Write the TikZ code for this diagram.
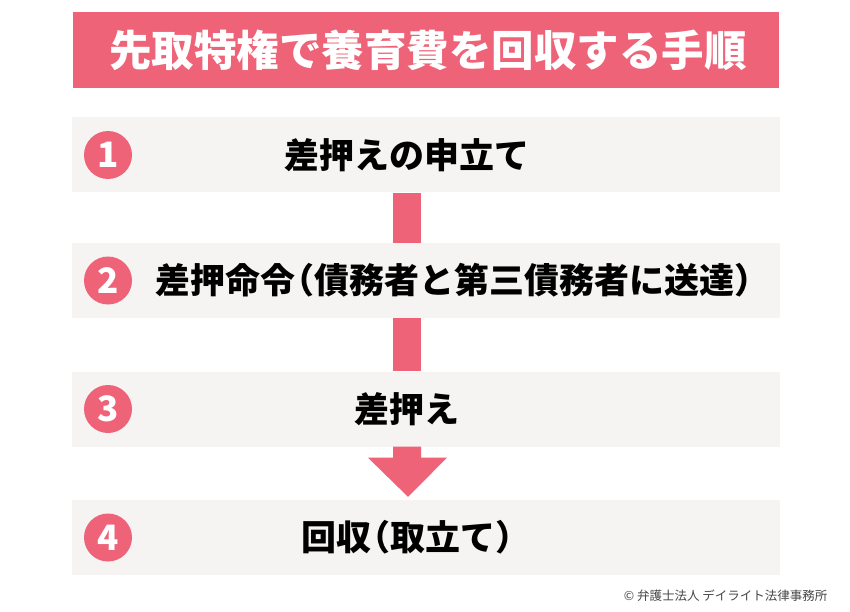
\documentclass[tikz,border=0pt]{standalone}
\usepackage{fontspec}
\usepackage{xcolor}
\usepackage{tikz}
\usetikzlibrary{calc}
\usetikzlibrary{positioning}
\newfontfamily\cjk{Noto Sans CJK JP}
\definecolor{rosepink}{RGB}{238,99,119}
\definecolor{bandgray}{RGB}{246,244,242}
\definecolor{notegray}{RGB}{70,70,70}
\newcommand{\lpar}{\kern-.45em（}
\tikzset{
  band/.style={fill=bandgray,minimum width=708,minimum height=75,inner sep=0},
  numdot/.style={circle,fill=rosepink,minimum size=48,inner sep=0,text=white,
    font=\cjk\bfseries\fontsize{35}{35}\selectfont},
  steptext/.style={font=\cjk\bfseries\fontsize{35}{35}\selectfont,inner sep=0},
}

\begin{document}
\begin{tikzpicture}[x=1pt,y=-1pt]
	\useasboundingbox (0,0) rectangle (850,612);
	% title
	\node[fill=rosepink,minimum width=706,minimum height=76,inner sep=0] (titlebox) at (426,50) {};
	\node[text=white,font=\cjk\bfseries\fontsize{42.5}{42.5}\selectfont] (title) at (428,50) {先取特権で養育費を回収する手順};
	% steps
	\coordinate (axis) at (407,0);
	\foreach \n/\yc in {1/155,2/280.5,3/409,4/537.5}{
		\node[band] (band\n) at (426,\yc) {};
		\node[numdot] (num\n) at (108,\yc) {\n};
	}
	\node[steptext] (step1) at (axis |- band1) {差押えの申立て};
	\node[steptext,anchor=west] (step2) at (155,280.5) {差押命令\lpar 債務者と第三債務者に送達）};
	\node[steptext] (step3) at (axis |- band3) {差押え};
	\node[steptext,anchor=west] (step4) at (301,537.5) {回収\lpar 取立て）};
	% connectors
	\fill[rosepink] ($(axis |- band1.south)+(-14,0)$) rectangle ($(axis |- band2.north)+(14,0)$);
	\fill[rosepink] ($(axis |- band2.south)+(-14,0)$) rectangle ($(axis |- band3.north)+(14,0)$);
	\fill[rosepink] ($(axis |- band3.south)+(-14,0)$) -- ($(axis |- band3.south)+(14,0)$)
		-- ($(axis |- band3.south)+(14,11)$) -- ($(axis |- band3.south)+(40,11)$)
		-- ($(axis |- band4.north)+(1,-3)$) -- ($(axis |- band3.south)+(-39,11)$)
		-- ($(axis |- band3.south)+(-14,11)$) -- cycle;
	% credit
	\node[anchor=east,text=notegray,font=\cjk\fontsize{12.5}{12.5}\selectfont] (credit) at (831,596) {© 弁護士法人 デイライト法律事務所};
\end{tikzpicture}
\end{document}
